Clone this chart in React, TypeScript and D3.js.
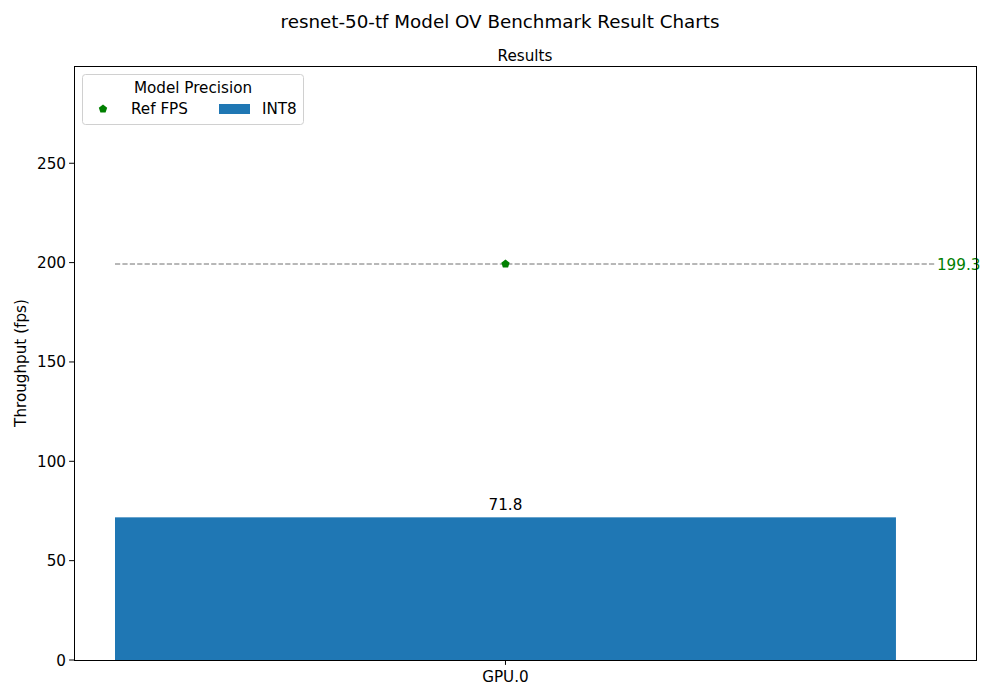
import * as d3 from "d3";
import React, { useEffect, useRef } from "react";

// chart data
const devices = ["GPU.0"];
const int8Values = [71.8];
const refFps = [199.3];
const yTicks = [0, 50, 100, 150, 200, 250];

const width = 1000;
const height = 700;
const margin = { top: 66, right: 24, bottom: 40, left: 74 };
const font = "DejaVu Sans, sans-serif";
const fs = 15.2;
const barColor = "#1f77b4";
const refColor = "#008000";

export default function App() {
  const svgRef = useRef<SVGSVGElement>(null);

  useEffect(() => {
    const svg = d3.select(svgRef.current);
    svg.selectAll("*").remove();

    const x0 = margin.left;
    const x1 = width - margin.right;
    const y0 = height - margin.bottom;
    const y1 = margin.top;

    // category index -> px, bar width 0.8 like matplotlib
    const x = d3.scaleLinear().domain([-0.442, 0.482]).range([x0, x1]);
    const yMax = d3.max(refFps)! * 1.5;
    const y = d3.scaleLinear().domain([0, yMax]).range([y0, y1]);

    svg.append("rect").attr("width", width).attr("height", height).attr("fill", "#fff");

    // titles
    svg
      .append("text")
      .attr("x", width / 2)
      .attr("y", 28)
      .attr("text-anchor", "middle")
      .attr("font-size", 18.3)
      .text("resnet-50-tf Model OV Benchmark Result Charts");
    svg
      .append("text")
      .attr("x", (x0 + x1) / 2)
      .attr("y", 61)
      .attr("text-anchor", "middle")
      .attr("font-size", fs)
      .text("Results");

    // bars
    const bw = 0.8;
    svg
      .selectAll("rect.bar")
      .data(int8Values)
      .join("rect")
      .attr("class", "bar")
      .attr("x", (_, i) => x(i - bw / 2))
      .attr("width", (_, i) => x(i + bw / 2) - x(i - bw / 2))
      .attr("y", (d) => y(d))
      .attr("height", (d) => y(0) - y(d))
      .attr("fill", barColor);

    svg
      .selectAll("text.barlabel")
      .data(int8Values)
      .join("text")
      .attr("class", "barlabel")
      .attr("x", (_, i) => x(i))
      .attr("y", (d) => y(d) - 7)
      .attr("text-anchor", "middle")
      .attr("font-size", fs)
      .text((d) => d.toFixed(1));

    const pentagon = (cx: number, cy: number, r: number) =>
      d3
        .range(5)
        .map((k) => {
          const a = -Math.PI / 2 + (k * 2 * Math.PI) / 5;
          return [cx + r * Math.cos(a), cy + r * Math.sin(a)].join(",");
        })
        .join(" ");

    // reference fps lines + markers
    refFps.forEach((v, i) => {
      svg
        .append("line")
        .attr("x1", x(i - bw / 2))
        .attr("x2", x(i + 0.441))
        .attr("y1", y(v))
        .attr("y2", y(v))
        .attr("stroke", "#707070")
        .attr("stroke-width", 1)
        .attr("stroke-dasharray", "5.2,2.2");
      svg.append("polygon").attr("points", pentagon(x(i), y(v), 4.4)).attr("fill", refColor);
      svg
        .append("text")
        .attr("x", x(i + 0.442))
        .attr("y", y(v) + 5.5)
        .attr("font-size", fs)
        .attr("fill", refColor)
        .text(v.toFixed(1));
    });

    // y axis
    const yAxis = svg.append("g").attr("transform", `translate(${x0},0)`);
    yTicks.forEach((t) => {
      yAxis
        .append("line")
        .attr("x1", -4.9)
        .attr("x2", 0)
        .attr("y1", y(t))
        .attr("y2", y(t))
        .attr("stroke", "#000")
        .attr("stroke-width", 1);
      yAxis
        .append("text")
        .attr("x", -8)
        .attr("y", y(t) + 5.5)
        .attr("text-anchor", "end")
        .attr("font-size", fs)
        .text(t);
    });

    // x axis
    devices.forEach((dv, i) => {
      svg
        .append("line")
        .attr("x1", x(i))
        .attr("x2", x(i))
        .attr("y1", y0)
        .attr("y2", y0 + 4.9)
        .attr("stroke", "#000")
        .attr("stroke-width", 1);
      svg
        .append("text")
        .attr("x", x(i))
        .attr("y", y0 + 22)
        .attr("text-anchor", "middle")
        .attr("font-size", fs)
        .text(dv);
    });

    svg
      .append("text")
      .attr("transform", `translate(26,${(y0 + y1) / 2}) rotate(-90)`)
      .attr("text-anchor", "middle")
      .attr("font-size", fs)
      .text("Throughput (fps)");

    // frame
    svg
      .append("rect")
      .attr("x", x0 + 0.5)
      .attr("y", y1 + 0.5)
      .attr("width", x1 - x0)
      .attr("height", y0 - y1)
      .attr("fill", "none")
      .attr("stroke", "#000")
      .attr("stroke-width", 1);

    // legend
    const lg = svg.append("g").attr("transform", "translate(82,74)");
    lg.append("rect")
      .attr("x", 0.5)
      .attr("y", 0.5)
      .attr("width", 221)
      .attr("height", 50)
      .attr("rx", 3)
      .attr("fill", "#fff")
      .attr("fill-opacity", 0.8)
      .attr("stroke", "#d0d0d0")
      .attr("stroke-width", 1);
    lg.append("text")
      .attr("x", 111)
      .attr("y", 19)
      .attr("text-anchor", "middle")
      .attr("font-size", fs)
      .text("Model Precision");
    lg.append("polygon").attr("points", pentagon(21, 35, 4.4)).attr("fill", refColor);
    lg.append("text").attr("x", 49).attr("y", 40).attr("font-size", fs).text("Ref FPS");
    lg.append("rect").attr("x", 137).attr("y", 30).attr("width", 31).attr("height", 10).attr("fill", barColor);
    lg.append("text").attr("x", 180).attr("y", 40).attr("font-size", fs).text("INT8");
  }, []);

  return (
    <div style={{ position: "fixed", left: 0, top: 0, width, height }}>
      <svg ref={svgRef} width={width} height={height} style={{ fontFamily: font, display: "block" }} />
    </div>
  );
}
